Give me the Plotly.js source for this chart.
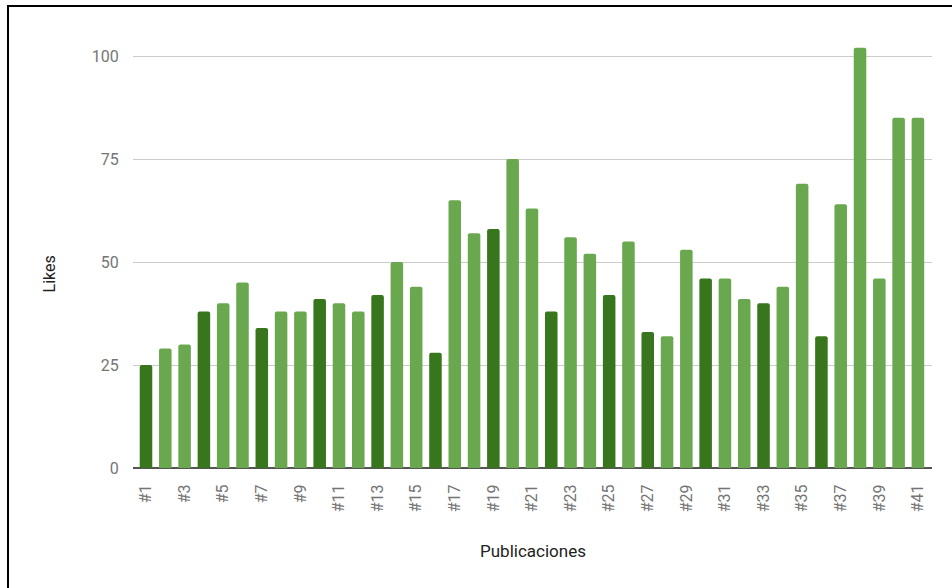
<!DOCTYPE html>
<html>
<head>
<meta charset="utf-8">
<script src="https://cdn.plot.ly/plotly-3.0.1.min.js"></script>
<style>
  html, body { margin: 0; padding: 0; background: #fff; }
  #wrap { position: relative; width: 952px; height: 588px; }
  #chart { width: 952px; height: 588px; }
  #frame { position: absolute; left: 7px; top: 5px; right: -10px; bottom: -10px;
           border-left: 2px solid #000; border-top: 2px solid #000; pointer-events: none; }
</style>
</head>
<body>
<div id="wrap">
  <div id="chart"></div>
  <div id="frame"></div>
</div>
<script>
// Publication labels
const publicaciones = ["#1","#2","#3","#4","#5","#6","#7","#8","#9","#10",
  "#11","#12","#13","#14","#15","#16","#17","#18","#19","#20",
  "#21","#22","#23","#24","#25","#26","#27","#28","#29","#30",
  "#31","#32","#33","#34","#35","#36","#37","#38","#39","#40","#41"];
// Likes per publication
const likes = [25,29,30,38,40,45,34,38,38,41,
  40,38,42,50,44,28,65,57,58,75,
  63,38,56,52,42,55,33,32,53,46,
  46,41,40,44,69,32,64,102,46,85,85];
// Publications drawn in the darker green
const destacada = [1,0,0,1,0,0,1,0,0,1,
  0,0,1,0,0,1,0,0,1,0,
  0,1,0,0,1,0,1,0,0,1,
  0,0,1,0,0,1,0,0,0,0,0];
// Tick labels shown on the x axis
const etiquetasX = publicaciones.filter((_, i) => i % 2 === 0);
const marcasY = [0, 25, 50, 75, 100];

const DARK = "#38761d", LIGHT = "#6aa84f";

const trace = {
  type: "bar",
  x: publicaciones,
  y: likes,
  marker: { color: destacada.map(d => d ? DARK : LIGHT), cornerradius: 2, line: { width: 0 } },
  hoverinfo: "x+y"
};

const layout = {
  width: 952, height: 588,
  margin: { l: 133, r: 20, t: 35, b: 120, pad: 0 },
  paper_bgcolor: "#fff", plot_bgcolor: "#fff",
  font: { family: "Roboto, Arial, sans-serif", size: 16, color: "#757575" },
  bargap: 0.35,
  showlegend: false,
  xaxis: {
    type: "category",
    range: [-0.674, 40.73],
    tickmode: "array",
    tickvals: etiquetasX,
    ticktext: etiquetasX,
    tickangle: -90,
    ticks: "outside", ticklen: 9, tickcolor: "rgba(0,0,0,0)",
    tickfont: { size: 16, color: "#757575" },
    showgrid: false,
    showline: false,
    fixedrange: true
  },
  yaxis: {
    range: [0, 105.1],
    tickmode: "array",
    tickvals: marcasY,
    ticktext: marcasY.map(String),
    ticks: "outside", ticklen: 10, tickcolor: "rgba(0,0,0,0)",
    tickfont: { size: 16, color: "#757575" },
    showgrid: true, gridcolor: "#cccccc", gridwidth: 1,
    zeroline: true, zerolinecolor: "#555555", zerolinewidth: 2,
    showline: false,
    fixedrange: true
  },
  annotations: [
    { text: "Likes", xref: "paper", yref: "paper", x: -0.1039, y: 0.5, xanchor: "center", yanchor: "middle",
      textangle: -90, showarrow: false, font: { size: 16, color: "#222222" } , yshift: -22 },
    { text: "Publicaciones", xref: "paper", yref: "paper", x: 0.5, y: 0, xanchor: "center", yanchor: "middle",
      showarrow: false, font: { size: 17, color: "#222222" }, yshift: -83 }
  ]
};

Plotly.newPlot("chart", [trace], layout, { displayModeBar: false, staticPlot: true });
</script>
</body>
</html>
